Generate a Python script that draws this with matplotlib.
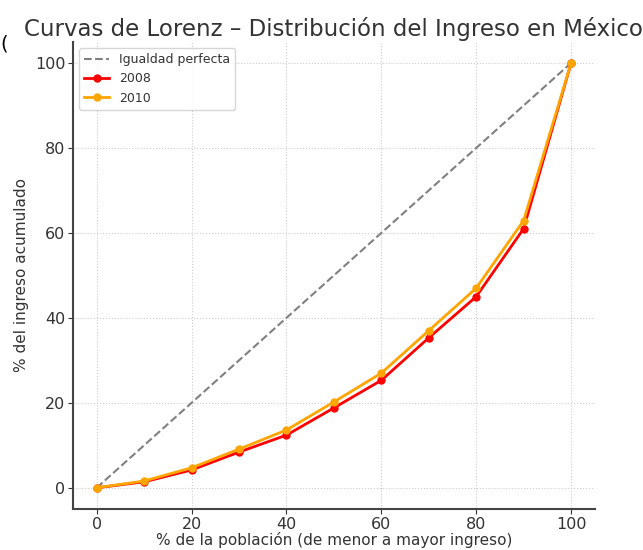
import matplotlib
matplotlib.use("Agg")
import matplotlib.pyplot as plt

poblacion = [0, 10, 20, 30, 40, 50, 60, 70, 80, 90, 100]
ingreso_2008 = [0, 1.4, 4.2, 8.4, 12.4, 18.8, 25.3, 35.3, 45.0, 61.0, 100]
ingreso_2010 = [0, 1.6, 4.7, 9.1, 13.6, 20.2, 27.0, 37.0, 47.0, 62.9, 100]
igualdad = [0, 100]

fig = plt.figure(figsize=(6.43, 5.5), dpi=100)
ax = fig.add_axes([0.1135, 0.0745, 0.8115, 0.8495])

ax.plot(igualdad, igualdad, linestyle="--", color="gray", linewidth=1.5, label="Igualdad perfecta")
ax.plot(poblacion, ingreso_2008, marker="o", color="red", linewidth=2, markersize=5, label="2008")
ax.plot(poblacion, ingreso_2010, marker="o", color="orange", linewidth=2, markersize=5, label="2010")

ax.set_xlim(-5, 105)
ax.set_ylim(-5, 105)
ax.set_xticks([0, 20, 40, 60, 80, 100])
ax.set_yticks([0, 20, 40, 60, 80, 100])
ax.grid(True, linestyle=":", color="#cccccc", linewidth=0.8)
for s in ["top", "right"]:
    ax.spines[s].set_visible(False)
for s in ["left", "bottom"]:
    ax.spines[s].set_color("#444444")
    ax.spines[s].set_linewidth(1.5)
ax.tick_params(labelsize=11.5, colors="#333333", pad=2)

ax.set_title("Curvas de Lorenz – Distribución del Ingreso en México", fontsize=16.5, color="#333333", pad=4)
ax.set_xlabel("% de la población (de menor a mayor ingreso)", fontsize=11, color="#333333", labelpad=0)
ax.set_ylabel("% del ingreso acumulado", fontsize=11, color="#333333")
leg = ax.legend(loc="upper left", fontsize=9, frameon=True)
for t in leg.get_texts():
    t.set_color("#333333")

fig.text(0.0, 0.91, "(", fontsize=14, color="black")

fig.savefig("out.png", dpi=100)
